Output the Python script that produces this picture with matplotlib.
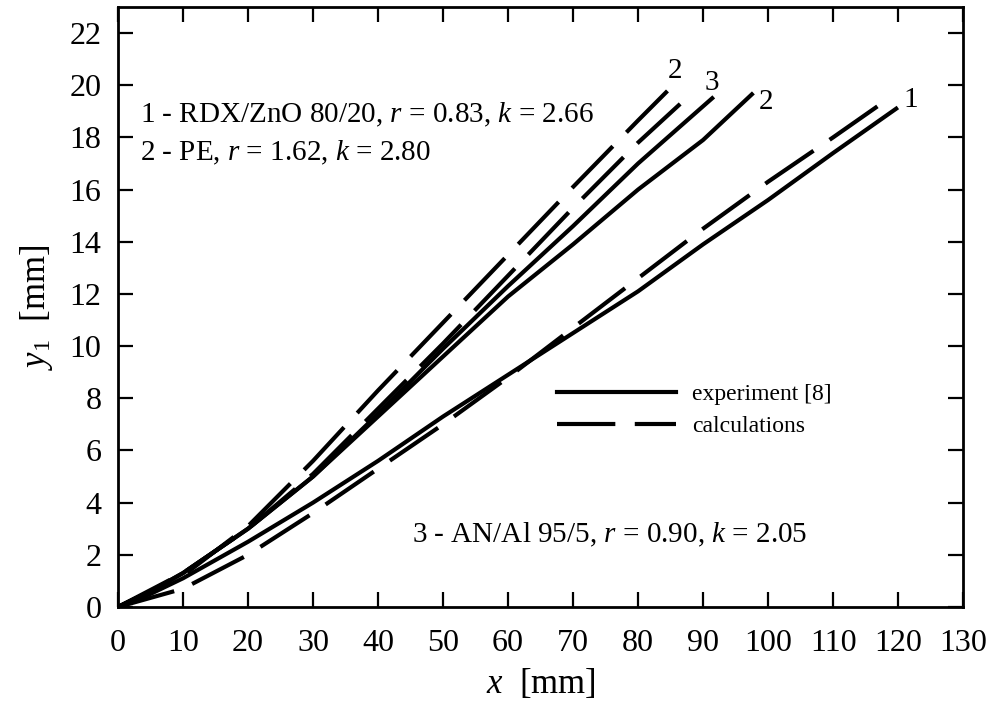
import numpy as np
import matplotlib
matplotlib.use("Agg")
import matplotlib.pyplot as plt

plt.rcParams['font.family'] = ['Liberation Serif', 'DejaVu Serif']
plt.rcParams['mathtext.fontset'] = 'custom'
plt.rcParams['mathtext.rm'] = 'Liberation Serif'
plt.rcParams['mathtext.it'] = 'Liberation Serif:italic'
plt.rcParams['lines.scale_dashes'] = False

# experiment [8] (solid lines)
x_exp1 = [0, 5, 10, 20, 30, 40, 50, 60, 70, 80, 90, 100, 110, 119.7]
y_exp1 = [0, 0.5, 1.1, 2.5, 4.0, 5.6, 7.3, 8.9, 10.5, 12.1, 13.9, 15.6, 17.4, 19.1]
x_exp2 = [0, 5, 10, 20, 30, 40, 50, 60, 70, 80, 90, 97.5]
y_exp2 = [0, 0.6, 1.3, 3.0, 5.0, 7.3, 9.6, 11.9, 13.9, 16.0, 17.9, 19.65]
x_exp3 = [0, 5, 10, 20, 30, 40, 50, 60, 70, 80, 91.4]
y_exp3 = [0, 0.6, 1.3, 3.0, 5.0, 7.4, 9.9, 12.3, 14.6, 17.0, 19.5]

# calculations (dashed lines)
x_cal1 = [0, 10, 20, 30, 40, 50, 60, 70, 80, 90, 100, 110, 118.6]
y_cal1 = [0, 0.7, 2.0, 3.6, 5.3, 7.0, 8.8, 10.7, 12.6, 14.5, 16.3, 18.0, 19.5]
x_cal2 = [0, 10, 20, 30, 40, 50, 60, 70, 80, 85]
y_cal2 = [0, 1.2, 3.1, 5.6, 8.3, 10.9, 13.5, 16.1, 18.65, 19.9]
x_cal3 = [0, 10, 20, 30, 40, 50, 60, 70, 80, 88.3]
y_cal3 = [0, 1.3, 3.0, 5.1, 7.6, 10.1, 12.7, 15.3, 17.8, 19.7]

x_ticks = list(range(0, 131, 10))
y_ticks = list(range(0, 23, 2))

fig = plt.figure(figsize=(9.96, 7.08), dpi=100)
ax = fig.add_axes([0.1185, 0.1427, 0.8485, 0.8475])

lw = 3.0
dash = (0, (42, 14))
ax.plot(x_exp1, y_exp1, 'k-', lw=lw, label='experiment [8]')
ax.plot(x_exp2, y_exp2, 'k-', lw=lw)
ax.plot(x_exp3, y_exp3, 'k-', lw=lw)
ax.plot(x_cal1, y_cal1, color='k', lw=lw, linestyle=dash, label='calculations')
ax.plot(x_cal2, y_cal2, color='k', lw=lw, linestyle=dash)
ax.plot(x_cal3, y_cal3, color='k', lw=lw, linestyle=dash)

ax.set_xlim(0, 130)
ax.set_ylim(0, 23)
ax.set_xticks(x_ticks)
ax.set_yticks(y_ticks)
ax.tick_params(direction='in', length=11, width=1.6, top=True, right=True,
               labelsize=23)
ax.tick_params(axis='x', pad=16)
ax.tick_params(axis='y', pad=12)
for s in ax.spines.values():
    s.set_linewidth(2.0)

ax.set_xlabel('$x$  [mm]', fontsize=25, labelpad=6)
ax.set_ylabel('$y_1$  [mm]', fontsize=25, labelpad=10)

fs = 21
ax.text(3.4, 18.58, '1 - RDX/ZnO 80/20, $r$ = 0.83, $k$ = 2.66', fontsize=fs)
ax.text(3.4, 17.13, '2 - PE, $r$ = 1.62, $k$ = 2.80', fontsize=fs)
ax.text(45.2, 2.49, '3 - AN/Al 95/5, $r$ = 0.90, $k$ = 2.05', fontsize=fs)

ax.text(84.6, 20.27, '2', fontsize=fs)
ax.text(90.3, 19.8, '3', fontsize=fs)
ax.text(98.5, 19.1, '2', fontsize=fs)
ax.text(120.8, 19.15, '1', fontsize=fs)

ax.legend(loc='center left', bbox_to_anchor=(0.52, 0.3275), frameon=False,
          fontsize=17, handlelength=5.0, handletextpad=0.7, labelspacing=0.45,
          borderpad=0, borderaxespad=0)

fig.savefig('out.png', dpi=100)
